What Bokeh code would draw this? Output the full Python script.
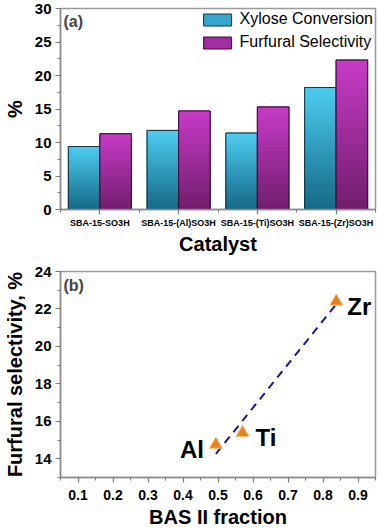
import numpy as np
from bokeh.plotting import figure
from bokeh.layouts import column
from bokeh.models import ColumnDataSource, FixedTicker, Range1d, Legend, LegendItem, Label
from bokeh.embed import file_html
from bokeh.resources import INLINE

# ---------------- data ----------------
catalysts = ["SBA-15-SO3H", "SBA-15-(Al)SO3H", "SBA-15-(Ti)SO3H", "SBA-15-(Zr)SO3H"]
xylose_conversion = [9.4, 11.8, 11.4, 18.2]
furfural_selectivity = [11.3, 14.7, 15.3, 22.3]
series_names = ["Xylose Conversion", "Furfural Selectivity"]

metals = ["Al", "Ti", "Zr"]
bas2_fraction = [0.494, 0.570, 0.838]
furfural_sel_b = [14.76, 15.39, 22.4]

y_ticks_a = [0, 5, 10, 15, 20, 25, 30]
y_ticks_b = [14, 16, 18, 20, 22, 24]
x_ticks_b = [0.1, 0.2, 0.3, 0.4, 0.5, 0.6, 0.7, 0.8, 0.9]

FONT = "Liberation Sans"

# gradient colours (top, bottom)
cyan_top, cyan_bot = (78, 206, 242), (20, 104, 132)
mag_top, mag_bot = (200, 60, 200), (112, 30, 108)


def hexc(c):
    return "#%02x%02x%02x" % tuple(int(round(v)) for v in c)


def gradient_slices(xs, vals, top_c, bot_c, n=40):
    xx, bb, tt, cc = [], [], [], []
    for x, v in zip(xs, vals):
        edges = np.linspace(0, v, n + 1)
        for i in range(n):
            f = (i + 0.5) / n
            col = tuple(bot_c[k] + (top_c[k] - bot_c[k]) * f for k in range(3))
            xx.append(x)
            bb.append(edges[i])
            tt.append(edges[i + 1])
            cc.append(hexc(col))
    return ColumnDataSource(dict(x=xx, bottom=bb, top=tt, color=cc))


# ---------------- panel (a) ----------------
idx = np.arange(len(catalysts)) + 0.5
bw = 0.4
x_xyl = idx - bw / 2
x_fur = idx + bw / 2

p1 = figure(width=378, height=257, x_range=Range1d(0, len(catalysts)), y_range=Range1d(0, 30),
            output_backend="svg", toolbar_location=None,
            min_border_left=57, min_border_right=3, min_border_top=8, min_border_bottom=48)

series = [(x_xyl, xylose_conversion, cyan_top, cyan_bot, "#35a6cc", "#15323e"),
          (x_fur, furfural_selectivity, mag_top, mag_bot, "#a32ea3", "#3a0d38")]
legend_items = []
for (xs, vals, tc, bc, mid, edge), name in zip(series, series_names):
    base = p1.vbar(x=xs, top=vals, width=bw, fill_color=mid, line_color=edge, line_width=1)
    src = gradient_slices(xs, vals, tc, bc)
    p1.vbar(x="x", bottom="bottom", top="top", width=bw, fill_color="color",
            line_color="color", line_width=0.6, source=src)
    p1.vbar(x=xs, top=vals, width=bw, fill_color=None, line_color=edge, line_width=1)
    legend_items.append(LegendItem(label=name, renderers=[base]))

legend = Legend(items=legend_items, location="top_right")
legend.glyph_width = 35
legend.glyph_height = 15
legend.label_text_font = FONT
legend.label_text_font_size = "16px"
legend.label_text_color = "black"
legend.label_standoff = 5
legend.label_height = 15
legend.spacing = 5
legend.padding = 0
legend.margin = 2
legend.border_line_alpha = 0
legend.background_fill_alpha = 0
p1.add_layout(legend)

p1.add_layout(Label(x=0, y=30, x_offset=3, y_offset=-4, text="(a)", text_baseline="top",
                    text_font=FONT, text_font_style="bold", text_font_size="16px"))

p1.xaxis.ticker = FixedTicker(ticks=list(idx), minor_ticks=list(range(len(catalysts) + 1)))
p1.xaxis.major_label_overrides = {float(i): c for i, c in zip(idx, catalysts)}
p1.xaxis.major_label_text_font_size = "9px"
p1.xaxis.major_label_standoff = 3
p1.xaxis.axis_label = "Catalyst"
p1.xaxis.axis_label_text_font_size = "20px"
p1.xaxis.axis_label_standoff = 2

p1.yaxis.ticker = FixedTicker(ticks=y_ticks_a, minor_ticks=list(np.arange(0, 30.1, 2.5)))
p1.yaxis.major_label_text_font_size = "15px"
p1.yaxis.major_label_standoff = 4
p1.yaxis.axis_label = "%"
p1.yaxis.axis_label_text_font_size = "20px"
p1.yaxis.axis_label_standoff = 6

# ---------------- panel (b) ----------------
p2 = figure(width=378, height=273, x_range=Range1d(0.05, 0.95), y_range=Range1d(13, 24),
            output_backend="svg", toolbar_location=None,
            min_border_left=57, min_border_right=3, min_border_top=14, min_border_bottom=53)

slope, intercept = np.polyfit(bas2_fraction, furfural_sel_b, 1)
fx = np.array([min(bas2_fraction), max(bas2_fraction)])
p2.line(fx, slope * fx + intercept, line_color="#1a1a90", line_width=2, line_dash="8 6")

src_b = ColumnDataSource(dict(x=bas2_fraction, y=furfural_sel_b, name=metals))
p2.scatter(x="x", y="y", source=src_b, marker="triangle", size=13,
           fill_color="#e8821e", line_color="#f4c080", line_width=1)

offsets = {"Al": (-12, -5, "right"), "Ti": (13, -5, "left"), "Zr": (11, -5, "left")}
for m, xv, yv in zip(metals, bas2_fraction, furfural_sel_b):
    dx, dy, al = offsets[m]
    p2.add_layout(Label(x=xv, y=yv, x_offset=dx, y_offset=dy, text=m, text_align=al,
                        text_baseline="middle", text_font=FONT, text_font_style="bold",
                        text_font_size="24px", text_color="black"))

p2.add_layout(Label(x=0.05, y=24, x_offset=3, y_offset=-5, text="(b)", text_baseline="top",
                    text_font=FONT, text_font_style="bold", text_font_size="16px"))

p2.xaxis.ticker = FixedTicker(ticks=x_ticks_b, minor_ticks=list(np.round(np.arange(0.05, 0.951, 0.05), 2)))
p2.xaxis.major_label_text_font_size = "14px"
p2.xaxis.major_label_standoff = 7
p2.xaxis.axis_label = "BAS II fraction"
p2.xaxis.axis_label_text_font_size = "20px"
p2.xaxis.axis_label_standoff = 3

p2.yaxis.ticker = FixedTicker(ticks=y_ticks_b, minor_ticks=list(range(13, 25)))
p2.yaxis.major_label_text_font_size = "15px"
p2.yaxis.major_label_standoff = 4
p2.yaxis.axis_label = "Furfural selectivity, %"
p2.yaxis.axis_label_text_font_size = "20px"
p2.yaxis.axis_label_standoff = 6

# ---------------- common styling ----------------
for p in (p1, p2):
    p.xgrid.visible = False
    p.ygrid.visible = False
    p.outline_line_color = "#9a9a9a"
    p.outline_line_width = 1.5
    p.background_fill_color = "white"
    p.border_fill_color = "white"
    for ax in (p.xaxis[0], p.yaxis[0]):
        ax.axis_line_color = "#8a8a8a"
        ax.axis_line_width = 1.5
        ax.major_tick_line_color = "#7a7a7a"
        ax.minor_tick_line_color = "#7a7a7a"
        ax.major_tick_line_width = 1.2
        ax.minor_tick_line_width = 1
        ax.major_tick_in = 0
        ax.major_tick_out = 5
        ax.minor_tick_in = 0
        ax.minor_tick_out = 3
        ax.major_label_text_font = FONT
        ax.major_label_text_font_style = "bold"
        ax.major_label_text_color = "black"
        ax.axis_label_text_font = FONT
        ax.axis_label_text_font_style = "bold"
        ax.axis_label_text_color = "black"

layout = column(p1, p2, spacing=0)

open("out.html", "w").write(file_html(layout, INLINE))
